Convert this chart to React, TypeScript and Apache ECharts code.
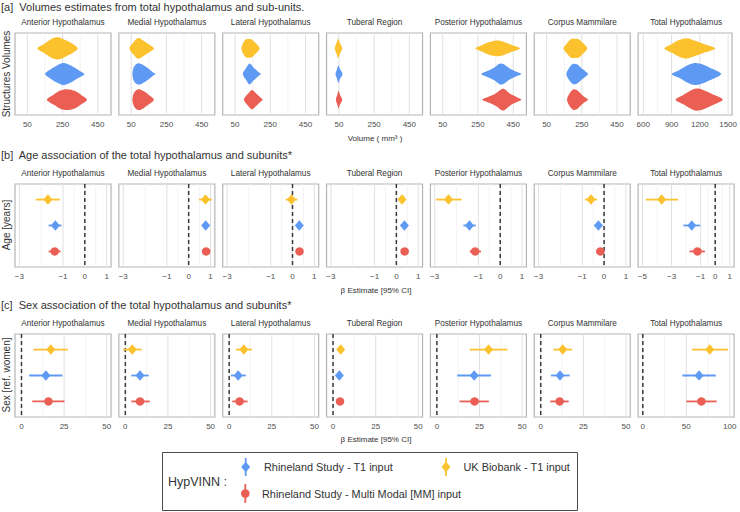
import React, { useEffect, useRef } from 'react';
import * as echarts from 'echarts';

// ---------- DATA ----------
const regions = [
  'Anterior Hypothalamus', 'Medial Hypothalamus', 'Lateral Hypothalamus', 'Tuberal Region',
  'Posterior Hypothalamus', 'Corpus Mammilare', 'Total Hypothalamus',
];
// order: UK Biobank T1, Rhineland T1, Rhineland MM
const studyNames = ['UK Biobank - T1 input', 'Rhineland Study - T1 input', 'Rhineland Study - Multi Modal [MM] input'];
const studyColors = ['#FBC22D', '#5E9AF3', '#EA5E53'];
const studySymbols = ['diamond', 'diamond', 'circle'];
const studyRows = [3, 2, 1];

// violin outlines: [volume (mm3), relative half-width]
const volUKB = [
  [[107, 0], [141, 0.38], [189, 0.88], [215, 1], [237, 0.97], [275, 0.69], [313, 0.36], [336, 0]],
  [[40, 0], [63, 0.55], [85, 0.92], [100, 0.9], [120, 0.7], [150, 0.38], [179, 0]],
  [[86, 0], [95, 0.45], [110, 0.8], [128, 0.85], [145, 0.8], [165, 0.5], [190, 0]],
  [[27, 0], [37, 0.5], [46, 0.88], [55, 0.5], [69, 0]],
  [[236, 0], [269, 0.25], [308, 0.55], [345, 0.7], [375, 0.7], [404, 0.55], [443, 0.3], [488, 0]],
  [[146, 0], [165, 0.45], [188, 0.85], [205, 0.88], [230, 0.85], [255, 0.5], [281, 0]],
  [[823, 0], [900, 0.38], [980, 0.75], [1062, 0.92], [1140, 0.72], [1250, 0.38], [1364, 0]],
];
const volRST1 = [
  [[151, 0], [180, 0.4], [218, 0.78], [250, 1], [265, 0.98], [303, 0.72], [341, 0.35], [374, 0]],
  [[57, 0], [62, 0.5], [75, 0.85], [95, 0.97], [127, 0.72], [156, 0.38], [179, 0.08], [190, 0]],
  [[94, 0], [113, 0.55], [133, 0.95], [155, 0.6], [178, 0.25], [196, 0]],
  [[31, 0], [40, 0.45], [47, 0.8], [56, 0.45], [71, 0]],
  [[269, 0], [300, 0.25], [340, 0.55], [375, 0.95], [395, 0.9], [430, 0.5], [465, 0.22], [496, 0]],
  [[162, 0], [178, 0.55], [200, 0.92], [222, 0.88], [250, 0.5], [270, 0.25], [285, 0]],
  [[902, 0], [980, 0.35], [1060, 0.75], [1130, 0.98], [1200, 0.95], [1300, 0.6], [1426, 0]],
];
const volRSMM = [
  [[161, 0], [199, 0.45], [237, 0.82], [275, 0.95], [322, 0.78], [360, 0.38], [389, 0]],
  [[57, 0], [63, 0.5], [78, 0.85], [95, 0.95], [122, 0.75], [152, 0.4], [179, 0]],
  [[100, 0], [122, 0.5], [146, 0.88], [168, 0.6], [190, 0.25], [206, 0]],
  [[33, 0], [41, 0.45], [48, 0.8], [56, 0.45], [69, 0]],
  [[275, 0], [310, 0.25], [350, 0.55], [385, 0.97], [400, 0.97], [435, 0.5], [470, 0.22], [496, 0]],
  [[166, 0], [180, 0.55], [200, 0.92], [222, 0.88], [250, 0.45], [270, 0.2], [285, 0]],
  [[943, 0], [1020, 0.4], [1100, 0.8], [1160, 1], [1230, 0.9], [1330, 0.5], [1443, 0]],
];

// [estimate, lower CI, upper CI]
const ageUKB = [[-1.69, -2.25, -1.15], [0.77, 0.47, 1.06], [-0.05, -0.31, 0.22], [0.26, 0.14, 0.38], [-2.37, -2.94, -1.77], [-0.6, -0.88, -0.32], [-3.68, -4.76, -2.55]];
const ageRST1 = [[-1.35, -1.66, -1.07], [0.78, 0.63, 0.93], [0.31, 0.19, 0.43], [0.37, 0.27, 0.47], [-1.41, -1.69, -1.12], [-0.26, -0.44, -0.08], [-1.61, -2.19, -1.03]];
const ageRSMM = [[-1.38, -1.66, -1.11], [0.8, 0.68, 0.92], [0.32, 0.22, 0.42], [0.38, 0.3, 0.46], [-1.15, -1.4, -0.88], [-0.17, -0.32, -0.02], [-1.22, -1.77, -0.71]];

const sexUKB = [[17.2, 7.0, 27.2], [4.1, -1.3, 9.6], [8.6, 3.9, 13.3], [4.5, 3.0, 6.0], [30.3, 19.3, 41.4], [12.9, 7.4, 18.5], [77, 56.7, 98]];
const sexRST1 = [[14.3, 4.5, 24], [8.6, 3.5, 13.7], [5.3, 1.0, 9.8], [3.7, 2.5, 4.9], [21.9, 11.9, 31.7], [11.3, 6.0, 17], [64.7, 45.5, 83.9]];
const sexRSMM = [[15.8, 6.3, 25.2], [8.6, 3.5, 14.3], [6.1, 1.8, 10.8], [4.1, 2.9, 5.3], [22.1, 13.3, 30.5], [11.1, 5.6, 16.4], [67.4, 50.1, 85]];

// axis ticks / ranges
const volTicks = [50, 250, 450];
const volMinor = [150, 350];
const volTicksTotal = [600, 900, 1200, 1500];
const volMinorTotal = [750, 1050, 1350];
const ageTicks = [-3, -1, 0, 1];
const ageMinor = [-2, -0.5, 0.5];
const ageTicksTotal = [-5, -3, -1, 0, 1];
const ageMinorTotal = [-4, -2, -0.5, 0.5];
const sexTicks = [0, 25, 50];
const sexMinor = [12.5, 37.5];
const sexTicksTotal = [0, 50, 100];
const sexMinorTotal = [25, 75];
const volRange = [-20, 525];
const volRangeTotal = [545, 1542];
const ageRange = [-3.2, 1.2];
const ageRangeTotal = [-5.3, 1.3];
const sexRange = [-3.8, 52.5];
const sexRangeTotal = [-5.4, 105];

// ---------- LAYOUT / STYLE ----------
const FONT = '"Liberation Sans", Arial, Helvetica, sans-serif';
const PANEL_LEFT = 15;
const PANEL_STEP = 103.85;
const PANEL_W = 96;
const ROW_TOPS = [33, 184, 334];
const ROW_H = [82, 83, 83];
const VIOLIN_HALF = 0.43;

const fmt = (v: number) => (v < 0 ? '\u2212' + Math.abs(v) : String(v));

function buildOption() {
  const grid: any[] = [];
  const xAxis: any[] = [];
  const yAxis: any[] = [];
  const series: any[] = [];
  const graphic: any[] = [];

  const volProfiles = [volUKB, volRST1, volRSMM];
  const ageSets = [ageUKB, ageRST1, ageRSMM];
  const sexSets = [sexUKB, sexRST1, sexRSMM];

  const text = (x: number, y: number, t: string, size: number, align = 'center', extra: any = {}) => ({
    type: 'text', x, y, silent: true, ...extra,
    style: {
      text: t, fontSize: size, fontFamily: FONT, fill: '#333',
      align, verticalAlign: 'middle', textAlign: align, textVerticalAlign: 'middle',
    },
  });

  for (let r = 0; r < 3; r++) {
    regions.forEach((name, p) => {
      const gi = grid.length;
      const left = PANEL_LEFT + p * PANEL_STEP;
      const isTotal = p === 6;
      let range, ticks, minor;
      if (r === 0) { range = isTotal ? volRangeTotal : volRange; ticks = isTotal ? volTicksTotal : volTicks; minor = isTotal ? volMinorTotal : volMinor; }
      else if (r === 1) { range = isTotal ? ageRangeTotal : ageRange; ticks = isTotal ? ageTicksTotal : ageTicks; minor = isTotal ? ageMinorTotal : ageMinor; }
      else { range = isTotal ? sexRangeTotal : sexRange; ticks = isTotal ? sexTicksTotal : sexTicks; minor = isTotal ? sexMinorTotal : sexMinor; }

      grid.push({
        left, top: ROW_TOPS[r], width: PANEL_W, height: ROW_H[r], show: true,
        borderColor: '#b5b5b5', borderWidth: 1.2, backgroundColor: '#ffffff', containLabel: false,
      });
      xAxis.push({
        type: 'value', gridIndex: gi, min: range[0], max: range[1],
        axisLine: { show: false }, axisTick: { show: false }, splitLine: { show: false },
        axisLabel: {
          customValues: ticks, color: '#4d4d4d', fontSize: 8, fontFamily: FONT, margin: 5,
          formatter: (v: number) => fmt(v), showMinLabel: true, showMaxLabel: true,
        },
      });
      yAxis.push({ type: 'value', gridIndex: gi, min: 0.4, max: 3.6, show: false });

      // strip title
      graphic.push(text(left + PANEL_W / 2, ROW_TOPS[r] - 11, name, 8.2));

      // grid lines
      series.push({
        type: 'custom', xAxisIndex: gi, yAxisIndex: gi, silent: true, z: 1, clip: true,
        data: [...ticks.map((v: number) => [v, 2, 1]), ...minor.map((v: number) => [v, 2, 0])],
        encode: { x: 0, y: 1 },
        renderItem: (params: any, api: any) => {
          const cs = params.coordSys;
          const x = api.coord([api.value(0), 2])[0];
          const major = api.value(2) === 1;
          return {
            type: 'line',
            shape: { x1: x, y1: cs.y, x2: x, y2: cs.y + cs.height },
            style: { stroke: major ? '#e0e0e0' : '#eeeeee', lineWidth: major ? 1 : 0.7 },
          };
        },
      });

      if (r === 0) {
        series.push({
          type: 'custom', xAxisIndex: gi, yAxisIndex: gi, silent: true, z: 3, clip: true,
          data: [0, 1, 2].map((s) => [volProfiles[s][p][0][0], studyRows[s], s]),
          encode: { x: 0, y: 1 },
          renderItem: (params: any, api: any) => {
            const s = api.value(2);
            const yc = api.value(1);
            const prof = volProfiles[s][p];
            const top = prof.map(([v, w]) => api.coord([v, yc + w * VIOLIN_HALF]));
            const bot = prof.slice(1, -1).reverse().map(([v, w]) => api.coord([v, yc - w * VIOLIN_HALF]));
            return {
              type: 'polygon',
              shape: { points: top.concat(bot), smooth: 0.3 },
              style: { fill: studyColors[s] },
            };
          },
        });
      } else {
        const sets = r === 1 ? ageSets : sexSets;
        // zero reference line
        series.push({
          type: 'custom', xAxisIndex: gi, yAxisIndex: gi, silent: true, z: 2, clip: true,
          data: [[0, 2]], encode: { x: 0, y: 1 },
          renderItem: (params: any, api: any) => {
            const cs = params.coordSys;
            const x = api.coord([api.value(0), 2])[0];
            return {
              type: 'line',
              shape: { x1: x, y1: cs.y, x2: x, y2: cs.y + cs.height },
              style: { stroke: '#3a3a3a', lineWidth: 1.5, lineDash: [4, 3] },
            };
          },
        });
        // error bars
        series.push({
          type: 'custom', xAxisIndex: gi, yAxisIndex: gi, silent: true, z: 3, clip: true,
          data: [0, 1, 2].map((s) => [sets[s][p][1], sets[s][p][2], studyRows[s], s]),
          encode: { x: [0, 1], y: 2 },
          renderItem: (params: any, api: any) => {
            const a = api.coord([api.value(0), api.value(2)]);
            const b = api.coord([api.value(1), api.value(2)]);
            return {
              type: 'line',
              shape: { x1: a[0], y1: a[1], x2: b[0], y2: b[1] },
              style: { stroke: studyColors[api.value(3)], lineWidth: 1.8 },
            };
          },
        });
        // points
        [0, 1, 2].forEach((s) => {
          series.push({
            type: 'scatter', xAxisIndex: gi, yAxisIndex: gi, silent: true, z: 4,
            name: studyNames[s],
            data: [[sets[s][p][0], studyRows[s]]],
            symbol: studySymbols[s],
            symbolSize: s === 2 ? 8.5 : [9, 10.5],
            itemStyle: { color: studyColors[s], opacity: 1 },
          });
        });
      }
    });
  }

  // section titles
  graphic.push(text(1, 7, '[a]  Volumes estimates from total hypothalamus and sub-units.', 11, 'left'));
  graphic.push(text(1, 155, '[b]  Age association of the total hypothalamus and subunits*', 11, 'left'));
  graphic.push(text(1, 305, '[c]  Sex association of the total hypothalamus and subunits*', 11, 'left'));
  // x-axis titles
  graphic.push(text(375, 138, 'Volume ( mm\u00B3 )', 8));
  graphic.push(text(376, 290, '\u03B2 Estimate [95% CI]', 8));
  graphic.push(text(376, 439, '\u03B2 Estimate [95% CI]', 8));
  // y-axis titles
  graphic.push(text(6, 74, 'Structures Volumes', 10, 'center', { rotation: Math.PI / 2 }));
  graphic.push(text(6, 225, 'Age [years]', 10, 'center', { rotation: Math.PI / 2 }));
  graphic.push(text(6, 375, 'Sex [ref. women]', 10, 'center', { rotation: Math.PI / 2 }));

  // legend
  graphic.push({
    type: 'rect', silent: true,
    shape: { x: 162.5, y: 452.5, width: 415, height: 58 },
    style: { fill: '#ffffff', stroke: '#4a4a4a', lineWidth: 1 },
  });
  graphic.push(text(168, 482, 'HypVINN :', 12.5, 'left'));
  const diamond = (cx: number, cy: number, color: string) => ({
    type: 'polygon', silent: true,
    shape: { points: [[cx, cy - 5.2], [cx + 4.5, cy], [cx, cy + 5.2], [cx - 4.5, cy]] },
    style: { fill: color },
  });
  const vline = (x: number, y1: number, y2: number, color: string) => ({
    type: 'line', silent: true, shape: { x1: x, y1, x2: x, y2 }, style: { stroke: color, lineWidth: 1.8 },
  });
  graphic.push(vline(245.7, 458, 476, studyColors[1]));
  graphic.push(diamond(245.7, 467, studyColors[1]));
  graphic.push(text(264, 467, studyNames[1], 10.9, 'left'));
  graphic.push(vline(446, 458, 476, studyColors[0]));
  graphic.push(diamond(446, 467, studyColors[0]));
  graphic.push(text(463.5, 467, studyNames[0], 10.9, 'left'));
  graphic.push(vline(245.3, 484, 503, studyColors[2]));
  graphic.push({ type: 'circle', silent: true, shape: { cx: 245.3, cy: 493.5, r: 4.3 }, style: { fill: studyColors[2] } });
  graphic.push(text(262, 493.5, studyNames[2], 10.9, 'left'));

  return {
    animation: false,
    backgroundColor: '#ffffff',
    grid, xAxis, yAxis, series, graphic,
  };
}

export default function App() {
  const ref = useRef<HTMLDivElement>(null);
  useEffect(() => {
    if (!ref.current) return;
    const chart = echarts.init(ref.current, null, { renderer: 'svg' });
    chart.setOption(buildOption() as any);
    return () => chart.dispose();
  }, []);
  return (
    <div
      ref={ref}
      style={{ position: 'fixed', left: 0, top: 0, width: 740, height: 512, background: '#fff' }}
    />
  );
}
